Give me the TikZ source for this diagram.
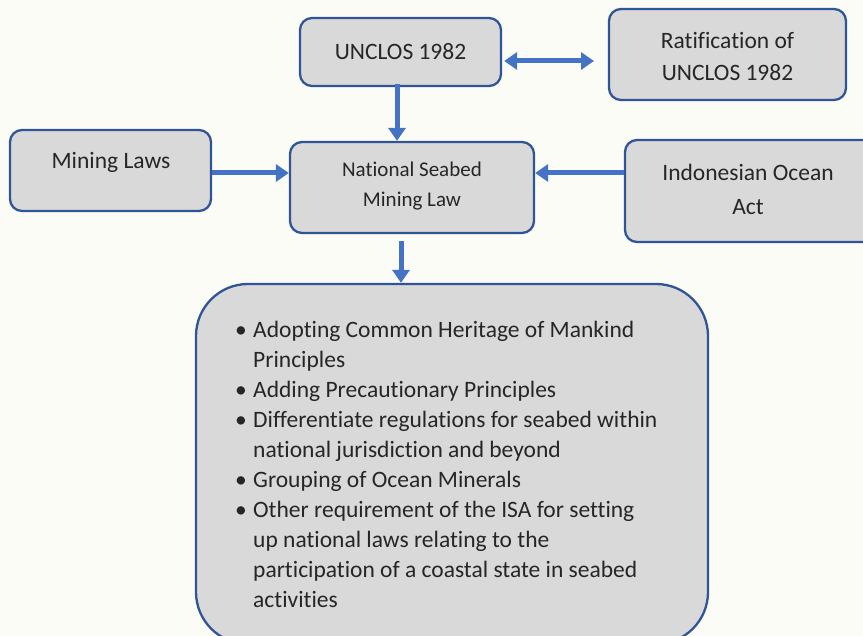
\documentclass[tikz,border=0pt]{standalone}
\usepackage{fontspec}
\setmainfont{Carlito}[Ligatures=NoCommon]
\usetikzlibrary{arrows.meta}
\definecolor{bg}{HTML}{FBFCF5}
\definecolor{boxfill}{HTML}{D9D9D9}
\definecolor{boxline}{HTML}{2F5597}
\definecolor{arrowc}{HTML}{4472C4}
\begin{document}
\begin{tikzpicture}[x=1pt,y=-1pt,
  box/.style={draw=boxline,fill=boxfill,line width=2.3pt,rounded corners=12pt,inner sep=0pt},
  txt/.style={font=\fontsize{23.5}{32}\selectfont,text=black!85,align=center,inner sep=0pt},
  arr/.style={draw=arrowc,line width=5pt,-{Triangle[length=13pt,width=17pt]}},
  darr/.style={draw=arrowc,line width=5pt,{Triangle[length=13pt,width=17pt]}-{Triangle[length=13pt,width=17pt]}}]
\fill[bg] (0,0) rectangle (863,636);
\useasboundingbox (0,0) rectangle (863,636);
% boxes
\node[box,minimum width=201pt,minimum height=68pt] (u) at (400.5,52) {};
\node[txt] at (u.center) {UNCLOS 1982};
\node[box,minimum width=237pt,minimum height=91pt] (r) at (727.5,54.5) {};
\node[txt] at (727.5,57) {Ratification of\\UNCLOS 1982};
\node[box,minimum width=201pt,minimum height=81pt] (m) at (110.5,170.5) {};
\node[txt] at (111,162) {Mining Laws};
\node[box,minimum width=244pt,minimum height=91pt] (n) at (412,187.5) {};
\node[txt,font=\fontsize{21}{30}\selectfont] at (412,186) {National Seabed\\Mining Law};
\node[box,minimum width=250pt,minimum height=102pt] (i) at (750,191) {};
\node[txt,font=\fontsize{23.5}{34}\selectfont] at (748,189) {Indonesian Ocean\\Act};
\node[box,rounded corners=52pt,minimum width=512pt,minimum height=360pt] (b) at (452,464) {};
\node[font=\fontsize{23.5}{30}\selectfont,text=black!85,align=left,inner sep=0pt,anchor=north west] (bt) at (235,321) {%
\makebox[18pt][l]{\textbullet}Adopting Common Heritage of Mankind\\
\hspace*{18pt}Principles\\
\makebox[18pt][l]{\textbullet}Adding Precautionary Principles\\
\makebox[18pt][l]{\textbullet}Differentiate regulations for seabed within\\
\hspace*{18pt}national jurisdiction and beyond\\
\makebox[18pt][l]{\textbullet}Grouping of Ocean Minerals\\
\makebox[18pt][l]{\textbullet}Other requirement of the ISA for setting\\
\hspace*{18pt}up national laws relating to the\\
\hspace*{18pt}participation of a coastal state in seabed\\
\hspace*{18pt}activities};
% arrows
\draw[darr] (u.east |- 0,61) ++(2,0) -- (594,61);
\draw[arr] (397,84) -- (n.north -| 397,0);
\draw[arr] (m.east |- 0,173) -- (n.west |- 0,173);
\draw[arr] (i.west |- 0,173) -- (n.east |- 0,173);
\draw[arr] (401,241) -- (b.north -| 401,0);
\end{tikzpicture}
\end{document}
